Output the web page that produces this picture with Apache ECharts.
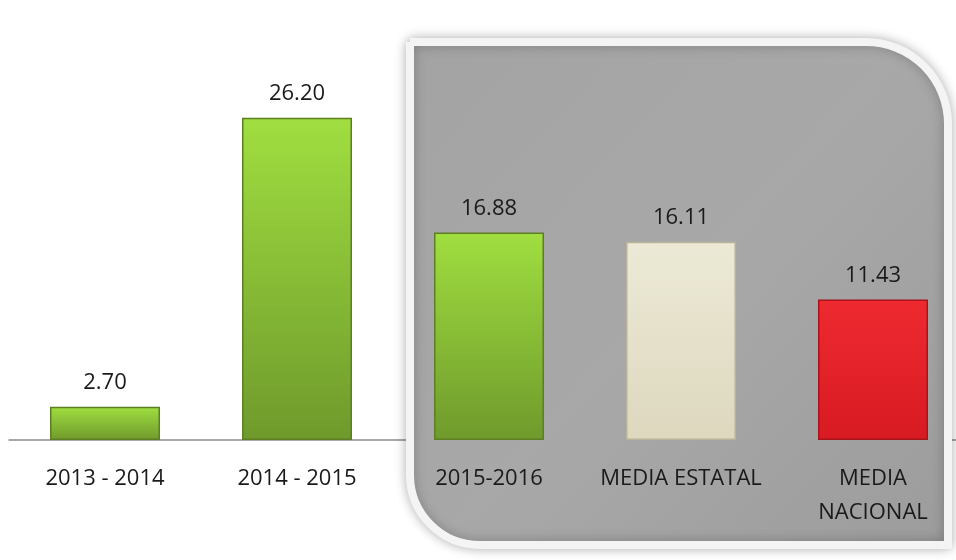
<!DOCTYPE html>
<html>
<head>
<meta charset="utf-8">
<script src="https://cdn.jsdelivr.net/npm/echarts@6/dist/echarts.min.js"></script>
<style>
  html, body { margin: 0; padding: 0; background: #fff; }
  #chart { width: 956px; height: 560px; }
</style>
</head>
<body>
<div id="chart"></div>
<script>
const categories = ['2013 - 2014', '2014 - 2015', '2015-2016', 'MEDIA ESTATAL', 'MEDIA\nNACIONAL'];
const values = [2.70, 26.20, 16.88, 16.11, 11.43];

function grad(top, bottom) {
  return new echarts.graphic.LinearGradient(0, 0, 0, 1, [
    {offset: 0, color: top},
    {offset: 1, color: bottom}
  ]);
}
const green = grad('#a0de40', '#6f9a2c');
const barColors = [
  {color: green, border: '#5d7f22'},
  {color: green, border: '#5d7f22'},
  {color: green, border: '#5d7f22'},
  {color: grad('#ece9d6', '#ddd8be'), border: '#b8b39a'},
  {color: grad('#ee2a30', '#d81a22'), border: '#a8141a'}
];

const chart = echarts.init(document.getElementById('chart'));
chart.setOption({
  backgroundColor: '#ffffff',
  animation: false,
  // gray rounded panel behind the last three bars (covers the axis line there)
  graphic: [{
    type: 'rect',
    z: 1,
    silent: true,
    shape: {x: 410, y: 42, width: 538, height: 503, r: [0, 82, 0, 70]},
    style: {
      fill: new echarts.graphic.LinearGradient(0, 0, 1, 1, [
        {offset: 0, color: '#a3a3a3'},
        {offset: 0.5, color: '#a8a8a8'},
        {offset: 1, color: '#9c9c9c'}
      ]),
      stroke: '#f4f4f4',
      lineWidth: 8,
      shadowBlur: 12,
      shadowColor: 'rgba(0,0,0,0.25)'
    }
  }],
  grid: {left: 9, width: 960, top: 71, bottom: 120, outerBoundsMode: 'none'},
  xAxis: [{
    type: 'category',
    data: categories,
    z: 0,
    axisLine: {show: true, lineStyle: {color: '#8c8c8c', width: 1.5}},
    axisTick: {show: false},
    axisLabel: {show: false}
  }, {
    type: 'category',
    data: categories,
    position: 'bottom',
    z: 5,
    axisLine: {show: false},
    axisTick: {show: false},
    axisLabel: {
      interval: 0,
      color: '#1a1a1a',
      fontSize: 22,
      fontFamily: 'Open Sans',
      margin: 22,
      lineHeight: 34
    }
  }],
  yAxis: {
    type: 'value',
    min: 0,
    max: 30,
    show: false,
    splitLine: {show: false}
  },
  series: [{
    type: 'bar',
    z: 3,
    xAxisIndex: 0,
    barWidth: 110,
    data: values.map((v, i) => ({
      value: v,
      itemStyle: {
        color: barColors[i].color,
        borderColor: barColors[i].border,
        borderWidth: 1.5
      }
    })),
    label: {
      show: true,
      position: 'top',
      distance: 13,
      color: '#1a1a1a',
      fontSize: 22,
      fontFamily: 'Open Sans',
      formatter: p => p.value.toFixed(2)
    }
  }]
});
</script>
</body>
</html>
